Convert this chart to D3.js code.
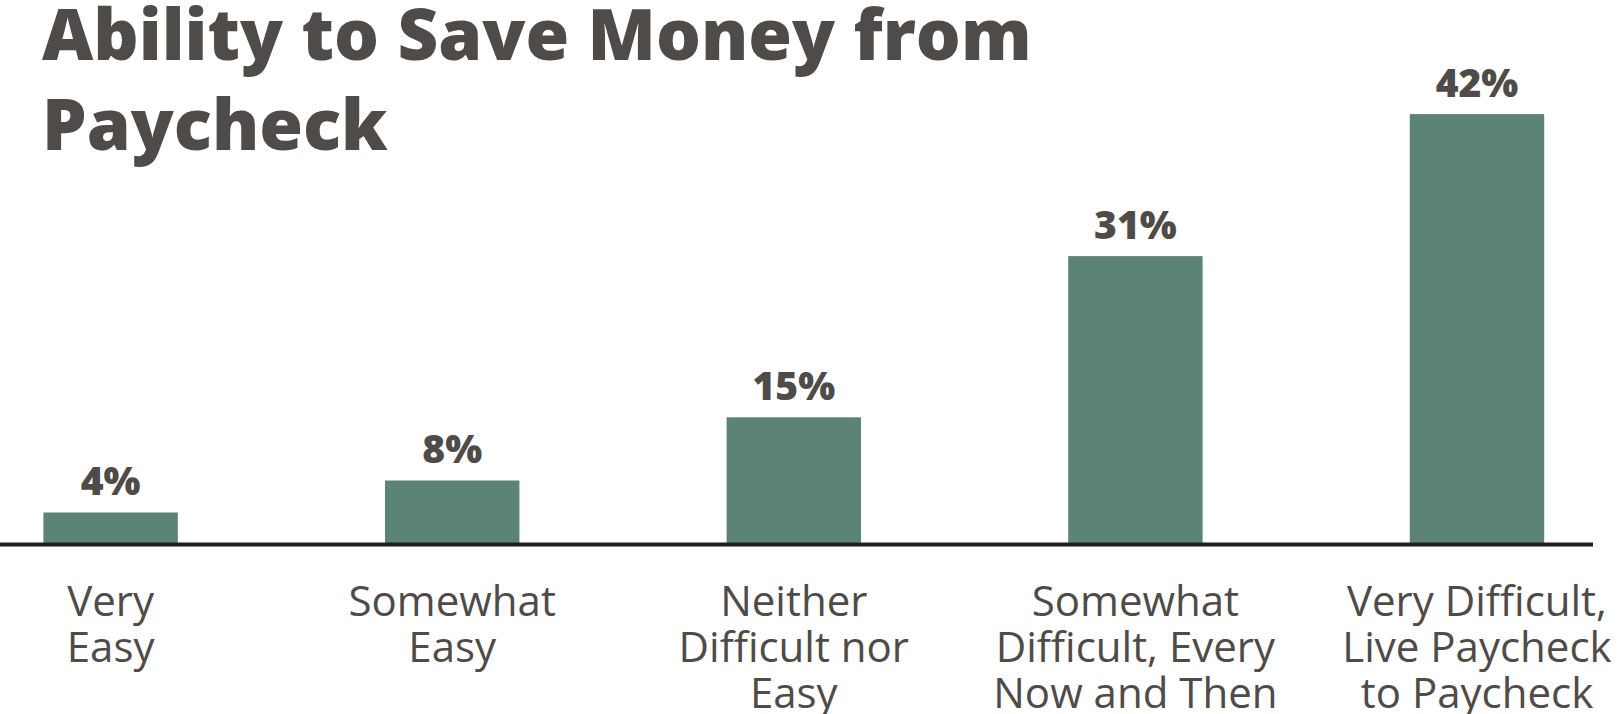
<!DOCTYPE html>
<html>
<head>
<meta charset="utf-8">
<script src="https://cdn.jsdelivr.net/npm/d3@7"></script>
<style>
  html, body { margin: 0; padding: 0; background: #ffffff; }
  svg { display: block; }
</style>
</head>
<body>
<svg id="chart" width="1619" height="714"></svg>
<script>
// ---- data ----
const titleLines = ["Ability to Save Money from", "Paycheck"];
const categories = [
  ["Very", "Easy"],
  ["Somewhat", "Easy"],
  ["Neither", "Difficult nor", "Easy"],
  ["Somewhat", "Difficult, Every", "Now and Then"],
  ["Very Difficult,", "Live Paycheck", "to Paycheck"]
];
const shares = [4, 8, 15, 31, 42];               // printed percentages
const barHeights = [4, 8, 15.9, 36.05, 53.8];    // bar lengths as drawn (same units)

// ---- layout / style ----
const W = 1619, H = 714;
const baseline = 544.5;
const textColor = "#4f4b48";
const barColor = "#5c8474";
const fontFamily = "'Open Sans', 'Noto Sans', sans-serif";

const svg = d3.select("#chart");

const x = d3.scaleBand()
  .domain(d3.range(categories.length))
  .range([43.4, 1544.2])
  .paddingInner(0.6065)
  .paddingOuter(0);

const y = d3.scaleLinear()
  .domain([0, 60])
  .range([baseline, baseline - 480]);

// title
svg.append("g")
  .selectAll("text")
  .data(titleLines)
  .join("text")
  .attr("x", 42)
  .attr("y", (d, i) => 60 + i * 89.5)
  .attr("font-family", fontFamily)
  .attr("font-weight", 800)
  .attr("font-size", 70.7)
  .attr("fill", textColor)
  .text(d => d);

// bars
svg.append("g")
  .selectAll("rect")
  .data(barHeights)
  .join("rect")
  .attr("x", (d, i) => x(i))
  .attr("width", x.bandwidth())
  .attr("y", d => y(d))
  .attr("height", d => baseline - y(d))
  .attr("fill", barColor);

// value labels
svg.append("g")
  .selectAll("text")
  .data(shares)
  .join("text")
  .attr("x", (d, i) => x(i) + x.bandwidth() / 2)
  .attr("y", (d, i) => y(barHeights[i]) - 17.6)
  .attr("text-anchor", "middle")
  .attr("font-family", fontFamily)
  .attr("font-weight", 800)
  .attr("font-size", 39)
  .attr("fill", textColor)
  .text(d => d + "%");

// axis line
svg.append("line")
  .attr("x1", 0)
  .attr("x2", 1593)
  .attr("y1", baseline)
  .attr("y2", baseline)
  .attr("stroke", "#231f20")
  .attr("stroke-width", 4);

// category labels
const cat = svg.append("g")
  .selectAll("text")
  .data(categories)
  .join("text")
  .attr("text-anchor", "middle")
  .attr("font-family", fontFamily)
  .attr("font-weight", 400)
  .attr("font-size", 42)
  .attr("fill", textColor);

cat.selectAll("tspan")
  .data((d, i) => d.map(line => ({ line, i })))
  .join("tspan")
  .attr("x", d => x(d.i) + x.bandwidth() / 2)
  .attr("y", (d, j) => 615.5 + j * 46.4)
  .text(d => d.line);
</script>
</body>
</html>
